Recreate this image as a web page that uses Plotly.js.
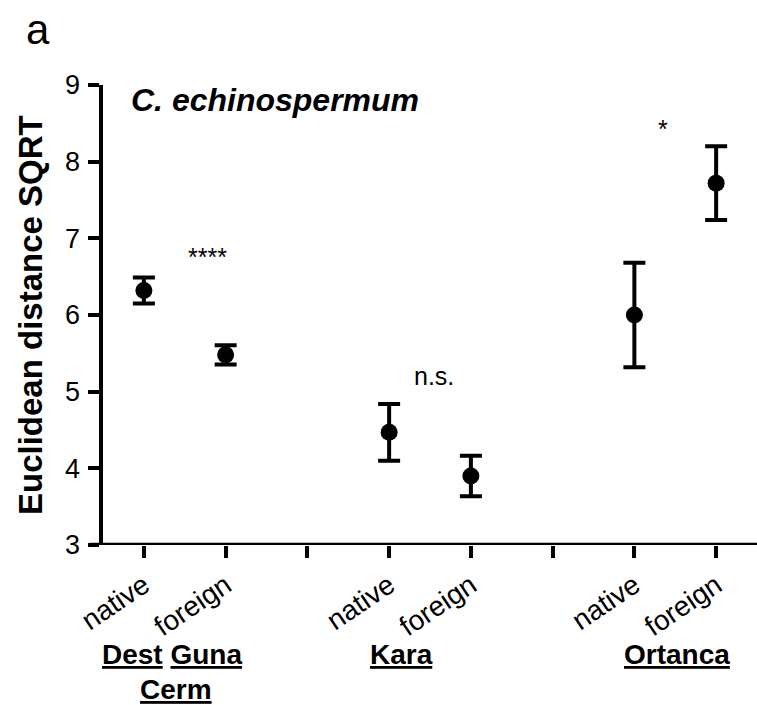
<!DOCTYPE html>
<html>
<head>
<meta charset="utf-8">
<script src="https://cdn.plot.ly/plotly-3.0.1.min.js"></script>
<style>
  html, body { margin: 0; padding: 0; background: #fff; }
  #chart { width: 757px; height: 705px; }
</style>
</head>
<body>
<div id="chart"></div>
<script>
// Slot positions along the x axis (slots 3 and 6 are gaps between sites)
const slotPositions = [1, 2, 3, 4, 5, 6, 7, 8];
const slotLabels = ['native', 'foreign', '', 'native', 'foreign', '', 'native', 'foreign'];

// Group means and error half-widths, in the order of the occupied slots
const pointSlots = [1, 2, 4, 5, 7, 8];
const meanDistance = [6.32, 5.48, 4.47, 3.90, 6.00, 7.72];
const errorHalf = [0.17, 0.125, 0.37, 0.265, 0.68, 0.48];

// Significance marks between native and foreign
const sigText = ['****', 'n.s.', '*'];
const sigX = [1.78, 4.55, 7.35];
const sigY = [6.76, 5.20, 8.42];

// Site names under the axis
const siteText = ['<u>Dest</u> <u>Guna</u>', '<u>Cerm</u>', '<u>Kara</u>', '<u>Ortanca</u>'];
const siteX = [1.35, 1.39, 4.15, 7.52];
const siteY = [-0.239, -0.315, -0.239, -0.239];

const FONT = '"Liberation Sans", Arial, Helvetica, sans-serif';

const trace = {
  type: 'scatter',
  mode: 'markers',
  x: pointSlots,
  y: meanDistance,
  marker: { color: '#000', size: 17 },
  error_y: { type: 'data', array: errorHalf, visible: true, color: '#000', thickness: 4, width: 11 },
  hoverinfo: 'x+y',
  showlegend: false
};

const annotations = [];
sigText.forEach((t, i) => annotations.push({
  xref: 'x', yref: 'y', x: sigX[i], y: sigY[i], text: t, showarrow: false,
  font: { family: FONT, size: 25, color: '#000' }
}));
siteText.forEach((t, i) => annotations.push({
  xref: 'x', yref: 'paper', x: siteX[i], y: siteY[i], text: '<b>' + t + '</b>', showarrow: false,
  xanchor: 'center', yanchor: 'middle',
  font: { family: FONT, size: 28, color: '#000' }
}));
// Species name inside the plot area
annotations.push({
  xref: 'paper', yref: 'paper', x: 0.04, y: 0.967, xanchor: 'left', yanchor: 'middle',
  text: '<b><i>C. echinospermum</i></b>', showarrow: false,
  font: { family: FONT, size: 32, color: '#000' }
});
// Panel letter
annotations.push({
  xref: 'paper', yref: 'paper', x: -0.0994, y: 1.12, xanchor: 'center', yanchor: 'middle',
  text: 'a', showarrow: false,
  font: { family: FONT, size: 42, color: '#000' }
});
// Y axis title
annotations.push({
  xref: 'paper', yref: 'paper', x: -0.1116, y: 0.5, xanchor: 'center', yanchor: 'middle',
  text: '<b>Euclidean distance SQRT</b>', textangle: -90, showarrow: false,
  font: { family: FONT, size: 33, color: '#000' }
});

const layout = {
  width: 757,
  height: 705,
  margin: { l: 103, r: 0, t: 85, b: 160 },
  paper_bgcolor: '#fff',
  plot_bgcolor: '#fff',
  font: { family: FONT, color: '#000' },
  xaxis: {
    range: [0.5, 8.5],
    tickmode: 'array',
    tickvals: slotPositions,
    ticktext: slotLabels,
    tickangle: -34,
    ticks: 'outside',
    ticklen: 12,
    tickwidth: 4,
    tickcolor: '#000',
    tickfont: { family: FONT, size: 28, color: '#000' },
    showgrid: false,
    zeroline: false,
    showline: false,
    fixedrange: true
  },
  yaxis: {
    range: [3, 9],
    dtick: 1,
    ticks: 'outside',
    ticklen: 11,
    tickwidth: 4,
    tickcolor: '#000',
    ticklabelstandoff: 2,
    tickfont: { family: FONT, size: 27, color: '#000' },
    showline: true,
    linewidth: 4.5,
    linecolor: '#000',
    showgrid: false,
    zeroline: false,
    fixedrange: true
  },
  shapes: [{
    // x axis line, running slightly past the y axis on the left
    type: 'line', xref: 'paper', yref: 'y', x0: -0.02, x1: 1, y0: 3, y1: 3,
    line: { color: '#000', width: 4.5 }
  }],
  annotations: annotations
};

Plotly.newPlot('chart', [trace], layout, { displayModeBar: false, staticPlot: true });
</script>
</body>
</html>
